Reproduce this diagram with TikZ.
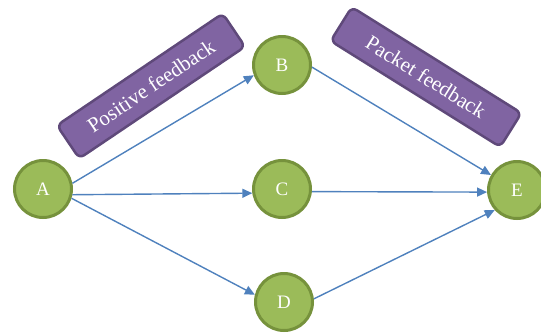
\documentclass[tikz,border=0pt]{standalone}
\usepackage{fontspec}
\setmainfont{Liberation Serif}
\usetikzlibrary{arrows.meta}
\definecolor{gfill}{HTML}{9BBB59}
\definecolor{gline}{HTML}{76923C}
\definecolor{pfill}{HTML}{8064A2}
\definecolor{pline}{HTML}{5F497A}
\definecolor{ablue}{HTML}{4F81BD}
\begin{document}
\begin{tikzpicture}[x=1pt,y=-1pt,
  vert/.style={circle,fill=gfill,draw=gline,line width=3pt,minimum size=57pt,inner sep=0pt,text=white,font=\fontsize{19}{19}\selectfont},
  tag/.style={rectangle,rounded corners=6pt,fill=pfill,draw=pline,line width=2.5pt,minimum width=200pt,minimum height=40pt,inner sep=0pt,text=white,font=\fontsize{21}{21}\selectfont},
  conn/.style={ablue,line width=1.4pt,-{Triangle[length=10pt,width=9pt]}}]
\useasboundingbox (0,0) rectangle (541,333);
\node[vert] (A) at (43,189) {A};
\node[vert] (B) at (282,65) {B};
\node[vert] (C) at (282,189) {C};
\node[vert] (D) at (284,302) {D};
\node[vert] (E) at (517,190) {E};
\node[tag,rotate=34] (P1) at (151,86) {Positive feedback};
\node[tag,rotate=-32] (P2) at (426,77) {Packet feedback};
\draw[conn] (A.11) -- (B.200);
\draw[conn] (A.-11) -- (C.188);
\draw[conn] (A.-18) -- (D.166);
\draw[conn] (B.-4) -- (E.150);
\draw[conn] (C.-5) -- (E.184);
\draw[conn] (D.6) -- (E.222);
\end{tikzpicture}
\end{document}
